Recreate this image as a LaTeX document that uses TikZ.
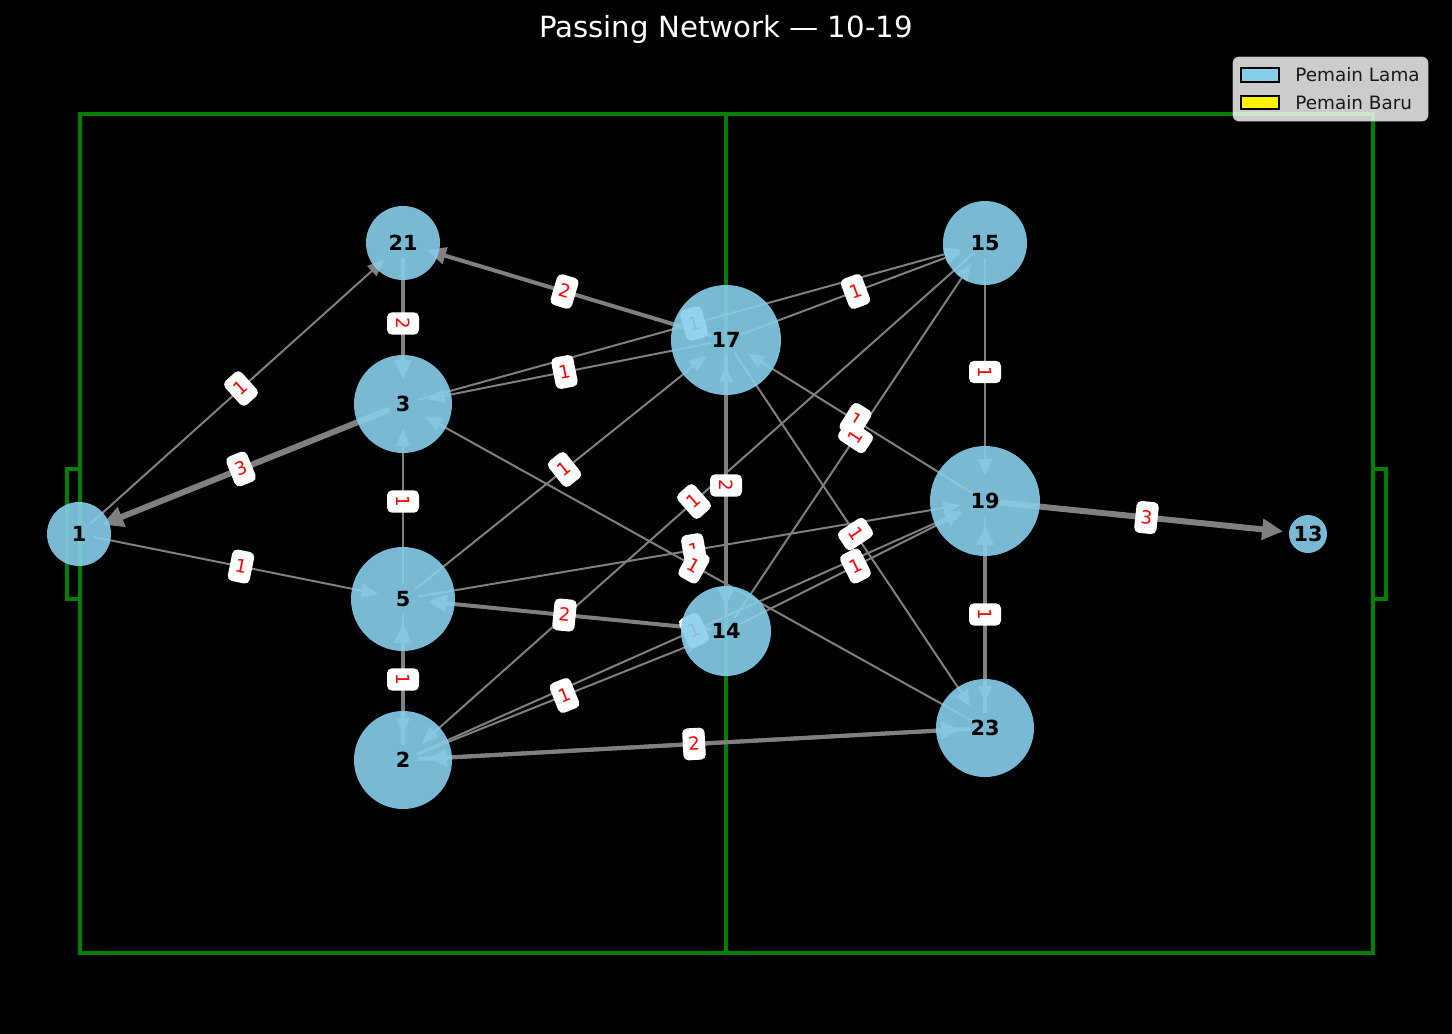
\documentclass[tikz,border=0pt]{standalone}
\usepackage{fontspec}
\setmainfont{DejaVu Sans}
\usetikzlibrary{arrows.meta}
\definecolor{skyblue}{RGB}{135,206,235}
\definecolor{pitchgreen}{RGB}{0,128,0}
\pgfdeclarelayer{pitch}
\pgfdeclarelayer{edges}
\pgfsetlayers{pitch,edges,main}
\begin{document}
\begin{tikzpicture}[x=0.5pt, y=-0.5pt]
	    \tikzset{player/.style={circle, fill=skyblue, fill opacity=0.9, text opacity=1, inner sep=0pt, font=\bfseries\fontsize{10.4}{12}\selectfont},
	             pass/.style={draw=gray, shorten <=7.5pt, shorten >=12.5pt, -{Triangle[length=7.5pt 1, width=5pt 1.7]}},
	             w1/.style={line width=1pt}, w2/.style={line width=2pt}, w3/.style={line width=3pt},
	             elabel/.style={midway, sloped, fill=white, text=red, rounded corners=2.5pt, inner xsep=2.7pt, inner ysep=2.7pt, text height=8.4pt, text depth=2.2pt, font=\fontsize{9.1}{11}\selectfont},
	             pitchline/.style={draw=pitchgreen, line width=2pt}}
	    % players
	    \node[player, minimum size=32pt] (p1) at (79,534) {1};
	    \node[player, minimum size=37pt] (p21) at (403,243) {21};
	    \node[player, minimum size=49pt] (p3) at (403,404) {3};
	    \node[player, minimum size=52pt] (p5) at (403,599) {5};
	    \node[player, minimum size=49pt] (p2) at (403,760) {2};
	    \node[player, minimum size=55pt] (p17) at (726,340) {17};
	    \node[player, minimum size=45pt] (p14) at (726,631) {14};
	    \node[player, minimum size=42pt] (p15) at (985,243) {15};
	    \node[player, minimum size=55pt] (p19) at (985,501) {19};
	    \node[player, minimum size=49pt] (p23) at (985,728) {23};
	    \node[player, minimum size=19pt] (p13) at (1308,534) {13};
	    % pitch
	    \begin{pgfonlayer}{pitch}
	    \fill[black] (0,0) rectangle (1452,1034);
	    \draw[pitchline] (80,114) rectangle (1373,953);
	    \draw[pitchline] (726,114) -- (726,953);
	    \draw[pitchline] (67,469) rectangle (80,599);
	    \draw[pitchline] (1373,469) rectangle (1386,599);
	    \end{pgfonlayer}
	    % passes
	    \begin{pgfonlayer}{edges}
	    \draw[pass, w1] (p1.center) -- (p21.center);
	    \draw[pass, w3] (p3.center) -- (p1.center);
	    \draw[pass, w1] (p1.center) -- (p5.center);
	    \draw[pass, w2] (p21.center) -- (p3.center);
	    \draw[pass, w1] (p5.center) -- (p3.center);
	    \draw[pass, w2] (p2.center) -- (p5.center);
	    \draw[pass, w1] (p5.center) -- (p2.center);
	    \draw[pass, w2] (p17.center) -- (p21.center);
	    \draw[pass, w1] (p17.center) -- (p3.center);
	    \draw[pass, w1] (p3.center) -- (p15.center);
	    \draw[pass, w1] (p17.center) -- (p15.center);
	    \draw[pass, w1] (p5.center) -- (p17.center);
	    \draw[pass, w2] (p14.center) -- (p5.center);
	    \draw[pass, w1] (p2.center) -- (p14.center);
	    \draw[pass, w1] (p2.center) -- (p19.center);
	    \draw[pass, w1] (p15.center) -- (p2.center);
	    \draw[pass, w1] (p14.center) -- (p17.center);
	    \draw[pass, w2] (p17.center) -- (p14.center);
	    \draw[pass, w1] (p5.center) -- (p19.center);
	    \draw[pass, w1] (p23.center) -- (p3.center);
	    \draw[pass, w1] (p19.center) -- (p17.center);
	    \draw[pass, w1] (p14.center) -- (p15.center);
	    \draw[pass, w1] (p17.center) -- (p23.center);
	    \draw[pass, w1] (p15.center) -- (p19.center);
	    \draw[pass, w2] (p23.center) -- (p19.center);
	    \draw[pass, w1] (p19.center) -- (p23.center);
	    \draw[pass, w3] (p19.center) -- (p13.center);
	    \draw[pass, w1] (p14.center) -- (p19.center);
	    \draw[pass, w2] (p23.center) -- (p2.center);
	    \draw[pass, w2] (p2.center) -- (p23.center);
	    % pass counts
	    \path (p1.center) -- node[elabel] {1} (p21.center);
	    \path (p1.center) -- node[elabel] {3} (p3.center);
	    \path (p1.center) -- node[elabel] {1} (p5.center);
	    \path (p21.center) -- node[elabel] {2} (p3.center);
	    \path (p3.center) -- node[elabel] {1} (p5.center);
	    \path (p5.center) -- node[elabel] {1} (p2.center);
	    \path (p21.center) -- node[elabel] {2} (p17.center);
	    \path (p3.center) -- node[elabel] {1} (p17.center);
	    \path (p3.center) -- node[elabel] {1} (p15.center);
	    \path (p17.center) -- node[elabel] {1} (p15.center);
	    \path (p5.center) -- node[elabel] {1} (p17.center);
	    \path (p5.center) -- node[elabel] {2} (p14.center);
	    \path (p2.center) -- node[elabel] {1} (p14.center);
	    \path (p2.center) -- node[elabel] {1} (p19.center);
	    \path (p2.center) -- node[elabel] {1} (p15.center);
	    \path (p17.center) -- node[elabel] {2} (p14.center);
	    \path (p5.center) -- node[elabel] {1} (p19.center);
	    \path (p3.center) -- node[elabel] {1} (p23.center);
	    \path (p17.center) -- node[elabel] {1} (p19.center);
	    \path (p14.center) -- node[elabel] {1} (p15.center);
	    \path (p17.center) -- node[elabel] {1} (p23.center);
	    \path (p15.center) -- node[elabel] {1} (p19.center);
	    \path (p19.center) -- node[elabel] {1} (p23.center);
	    \path (p19.center) -- node[elabel] {3} (p13.center);
	    \path (p14.center) -- node[elabel] {1} (p19.center);
	    \path (p2.center) -- node[elabel] {2} (p23.center);
	    \end{pgfonlayer}
	    % title and legend
	    \node[text=white, anchor=base, font=\fontsize{14.6}{17}\selectfont] (title) at (726,37) {Passing Network — 10-19};
	    \draw[fill=white, fill opacity=0.8, draw=white!80!black, draw opacity=0.8, rounded corners=3pt] (1233,57) rectangle (1428,121);
	    \draw[fill=skyblue, draw=black, line width=0.8pt] (1241,68) rectangle (1279,82);
	    \draw[fill=yellow, draw=black, line width=0.8pt] (1241,96) rectangle (1279,109);
	    \node[anchor=base west, inner sep=0pt, text=black!90, font=\fontsize{9.2}{11}\selectfont] (lama) at (1295,81) {Pemain Lama};
	    \node[anchor=base west, inner sep=0pt, text=black!90, font=\fontsize{9.2}{11}\selectfont] (baru) at (1295,109) {Pemain Baru};
	    \end{tikzpicture}
\end{document}
